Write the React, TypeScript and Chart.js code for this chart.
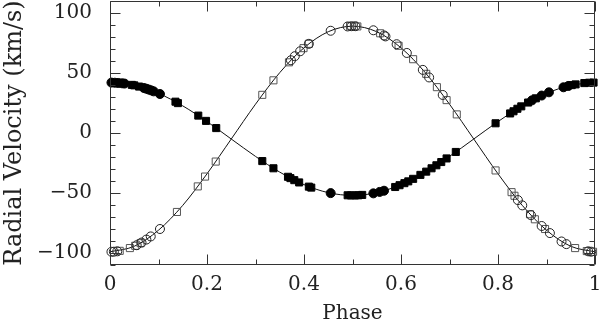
import React, { useEffect, useRef } from 'react';
import { Chart, registerables } from 'chart.js';

Chart.register(...registerables);

// Observed radial velocities — primary (filled) and secondary (open), circles & squares
const filledCirclePhase = [0.003, 0.01, 0.017, 0.025, 0.03, 0.07, 0.075, 0.08, 0.085, 0.09, 0.103, 0.455, 0.543, 0.556, 0.565, 0.87, 0.89, 0.905, 0.935, 0.945];
const filledCircleVel = [42.0, 41.9, 41.7, 41.4, 41.2, 37.5, 36.9, 36.2, 35.5, 34.7, 32.5, -50.1, -50.3, -49.1, -48.1, 27.2, 31.2, 33.9, 38.1, 39.2];

const filledSquarePhase = [0.045, 0.05, 0.06, 0.135, 0.14, 0.182, 0.198, 0.219, 0.314, 0.337, 0.367, 0.372, 0.38, 0.39, 0.41, 0.415, 0.49, 0.497, 0.505, 0.512, 0.52, 0.588, 0.597, 0.607, 0.615, 0.625, 0.64, 0.652, 0.663, 0.673, 0.683, 0.694, 0.713, 0.795, 0.825, 0.832, 0.84, 0.848, 0.862, 0.878, 0.952, 0.96, 0.978, 0.988, 0.997];
const filledSquareVel = [40.1, 39.7, 38.7, 26.1, 24.9, 14.5, 10.1, 4.1, -23.4, -29.4, -36.5, -37.6, -39.3, -41.2, -44.7, -45.5, -51.9, -52.0, -52.0, -51.9, -51.6, -45.0, -43.5, -41.8, -40.3, -38.2, -34.9, -32.2, -29.4, -26.9, -24.2, -21.2, -15.8, 8.1, 16.3, 18.1, 20.2, 22.2, 25.4, 28.9, 39.9, 40.5, 41.6, 41.9, 42.0];

const openCirclePhase = [0.003, 0.008, 0.015, 0.055, 0.065, 0.075, 0.084, 0.103, 0.373, 0.381, 0.392, 0.41, 0.455, 0.49, 0.498, 0.506, 0.543, 0.565, 0.568, 0.591, 0.612, 0.645, 0.658, 0.686, 0.841, 0.85, 0.868, 0.89, 0.907, 0.931, 0.941, 0.986, 0.992];
const openCircleVel = [-99.0, -98.9, -98.6, -93.5, -91.3, -88.8, -86.2, -80.0, 60.6, 64.0, 68.1, 74.3, 85.2, 88.8, 89.0, 89.0, 85.6, 81.3, 80.5, 74.0, 66.7, 52.6, 46.3, 31.7, -55.9, -60.3, -68.5, -77.5, -83.4, -90.4, -92.6, -98.6, -98.9];

const openSquarePhase = [0.02, 0.041, 0.052, 0.063, 0.138, 0.181, 0.196, 0.218, 0.314, 0.337, 0.369, 0.399, 0.41, 0.495, 0.503, 0.51, 0.557, 0.595, 0.625, 0.652, 0.674, 0.694, 0.715, 0.795, 0.828, 0.834, 0.866, 0.876, 0.897, 0.959, 0.983, 0.996];
const openSquareVel = [-98.2, -95.9, -94.0, -91.8, -65.8, -44.5, -36.3, -23.8, 31.8, 43.9, 58.9, 70.7, 74.3, 89.0, 89.0, 88.8, 83.1, 72.7, 61.5, 49.3, 38.2, 27.4, 15.5, -31.2, -49.3, -52.3, -67.7, -71.9, -80.0, -95.9, -98.4, -99.0];

// Fitted orbit curves
const curvePhase = [0, 0.05, 0.1, 0.15, 0.2, 0.25, 0.3, 0.35, 0.4, 0.45, 0.5, 0.55, 0.6, 0.65, 0.7, 0.75, 0.8, 0.85, 0.9, 0.95, 1];
const primaryCurve = [42.0, 39.7, 33.0, 22.6, 9.5, -5.0, -19.5, -32.6, -43.0, -49.7, -52.0, -49.7, -43.0, -32.6, -19.5, -5.0, 9.5, 22.6, 33.0, 39.7, 42.0];
const secondaryCurve = [-99.0, -94.4, -81.0, -60.3, -34.0, -5.0, 24.0, 50.3, 71.0, 84.4, 89.0, 84.4, 71.0, 50.3, 24.0, -5.0, -34.0, -60.3, -81.0, -94.4, -99.0];

// Axes
const xMajorTicks = [0, 0.2, 0.4, 0.6, 0.8, 1];
const xMinorTicks = [0.1, 0.3, 0.5, 0.7, 0.9];
const yMajorTicks = [-100, -50, 0, 50, 100];
const yMinorTicks = [-110, -90, -80, -70, -60, -40, -30, -20, -10, 10, 20, 30, 40, 60, 70, 80, 90, 110];

const AXIS = '#333';
const TEXT = '#222';
const FONT = "'DejaVu Serif', serif";

const zip = (xs: number[], ys: number[]) => xs.map((x, i) => ({ x, y: ys[i] }));

const frameTicks = {
  id: 'frameTicks',
  afterDatasetsDraw(chart: any) {
    const { ctx, chartArea: a, scales } = chart;
    const xs = scales.x;
    const ys = scales.y;
    ctx.save();
    ctx.strokeStyle = AXIS;
    ctx.lineWidth = 1;
    const L = Math.round(a.left) + 0.5;
    const R = Math.round(a.right) - 0.5;
    const T = Math.round(a.top) + 0.5;
    const B = Math.round(a.bottom) - 0.5;
    ctx.beginPath();
    ctx.rect(L, T, R - L, B - T);
    const xt = (v: number, len: number) => {
      const p = Math.round(xs.getPixelForValue(v)) + 0.5;
      ctx.moveTo(p, B); ctx.lineTo(p, B - len);
      ctx.moveTo(p, T); ctx.lineTo(p, T + len);
    };
    const yt = (v: number, len: number) => {
      const p = Math.round(ys.getPixelForValue(v)) + 0.5;
      ctx.moveTo(L, p); ctx.lineTo(L + len, p);
      ctx.moveTo(R, p); ctx.lineTo(R - len, p);
    };
    xMajorTicks.forEach((v) => xt(v, 10));
    xMinorTicks.forEach((v) => xt(v, 5));
    yMajorTicks.forEach((v) => yt(v, 10));
    yMinorTicks.forEach((v) => yt(v, 5));
    ctx.stroke();
    ctx.restore();
  },
};

export default function App() {
  const ref = useRef<HTMLCanvasElement | null>(null);

  useEffect(() => {
    if (!ref.current) return;
    const chart = new Chart(ref.current, {
      type: 'scatter',
      data: {
        datasets: [
          {
            label: 'Primary (circles)',
            data: zip(filledCirclePhase, filledCircleVel),
            pointStyle: 'circle',
            pointRadius: 4.5,
            backgroundColor: '#000',
            borderColor: '#000',
            borderWidth: 1,
            clip: false,
          },
          {
            label: 'Primary (squares)',
            data: zip(filledSquarePhase, filledSquareVel),
            pointStyle: 'rect',
            pointRadius: 5,
            backgroundColor: '#000',
            borderColor: '#000',
            borderWidth: 1,
            clip: false,
          },
          {
            label: 'Secondary (circles)',
            data: zip(openCirclePhase, openCircleVel),
            pointStyle: 'circle',
            pointRadius: 4.5,
            backgroundColor: 'rgba(0,0,0,0)',
            borderColor: '#222',
            borderWidth: 1,
            clip: false,
          },
          {
            label: 'Secondary (squares)',
            data: zip(openSquarePhase, openSquareVel),
            pointStyle: 'rect',
            pointRadius: 5,
            backgroundColor: 'rgba(0,0,0,0)',
            borderColor: '#555',
            borderWidth: 1,
            clip: false,
          },
          {
            type: 'line',
            label: 'Primary fit',
            data: zip(curvePhase, primaryCurve),
            showLine: true,
            pointRadius: 0,
            borderColor: '#111',
            borderWidth: 1,
            cubicInterpolationMode: 'monotone',
            fill: false,
          },
          {
            type: 'line',
            label: 'Secondary fit',
            data: zip(curvePhase, secondaryCurve),
            showLine: true,
            pointRadius: 0,
            borderColor: '#111',
            borderWidth: 1,
            cubicInterpolationMode: 'monotone',
            fill: false,
          },
        ],
      } as any,
      options: {
        animation: false,
        responsive: false,
        maintainAspectRatio: false,
        events: [],
        layout: { autoPadding: false, padding: { left: 0, right: 5, top: 1, bottom: 0 } },
        plugins: {
          legend: { display: false },
          tooltip: { enabled: false },
        },
        scales: {
          x: {
            type: 'linear',
            min: 0,
            max: 1,
            grid: { display: false, drawTicks: false },
            border: { display: false },
            afterBuildTicks: (s: any) => {
              s.ticks = xMajorTicks.map((v) => ({ value: v }));
            },
            afterFit: (s: any) => {
              s.height = 59;
              s.paddingLeft = 0;
              s.paddingRight = 0;
            },
            ticks: {
              padding: 8,
              color: TEXT,
              font: { family: FONT, size: 20 },
              maxRotation: 0,
              callback: (v: any) => String(Math.round(Number(v) * 10) / 10),
            },
            title: {
              display: true,
              text: 'Phase',
              color: TEXT,
              font: { family: FONT, size: 20 },
              padding: { top: 0, bottom: -2 },
            },
          },
          y: {
            type: 'linear',
            min: -110,
            max: 110,
            grid: { display: false, drawTicks: false },
            border: { display: false },
            afterBuildTicks: (s: any) => {
              s.ticks = yMajorTicks.map((v) => ({ value: v }));
            },
            afterFit: (s: any) => {
              s.width = 110;
              s.paddingTop = 0;
              s.paddingBottom = 0;
            },
            ticks: {
              padding: 18,
              color: TEXT,
              font: { family: FONT, size: 20 },
              callback: (v: any) => String(v).replace('-', '\u2212'),
            },
            title: {
              display: true,
              text: 'Radial Velocity (km/s)',
              color: TEXT,
              font: { family: FONT, size: 24 },
              padding: { top: 0, bottom: 0 },
            },
          },
        },
      } as any,
      plugins: [frameTicks],
    });
    return () => chart.destroy();
  }, []);

  return (
    <div style={{ position: 'fixed', left: 0, top: 0, width: 600, height: 324, background: '#fff' }}>
      <canvas ref={ref} width={600} height={324} style={{ width: 600, height: 324, display: 'block' }} />
    </div>
  );
}
